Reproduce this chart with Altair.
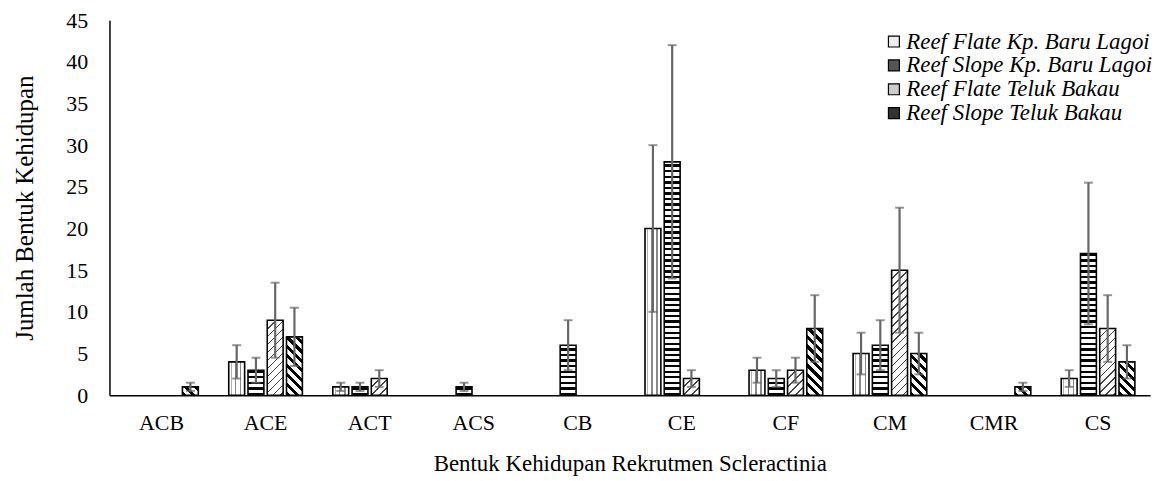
import math
import altair as alt
import pandas as pd

# ---------------- data ----------------
categories = ["ACB", "ACE", "ACT", "ACS", "CB", "CE", "CF", "CM", "CMR", "CS"]
series = [
    "Reef Flate Kp. Baru Lagoi",
    "Reef Slope Kp. Baru Lagoi",
    "Reef Flate Teluk Bakau",
    "Reef Slope Teluk Bakau",
]
rf_kbl = [0, 4, 1, 0, 0, 20, 3, 5, 0, 2]
rf_kbl_err = [0, 2, 0.5, 0, 0, 10, 1.5, 2.5, 0, 1]
rs_kbl = [0, 3, 1, 1, 6, 28, 2, 6, 0, 17]
rs_kbl_err = [0, 1.5, 0.5, 0.5, 3, 14, 1, 3, 0, 8.5]
rf_tb = [0, 9, 2, 0, 0, 2, 3, 15, 0, 8]
rf_tb_err = [0, 4.5, 1, 0, 0, 1, 1.5, 7.5, 0, 4]
rs_tb = [1, 7, 0, 0, 0, 0, 8, 5, 1, 4]
rs_tb_err = [0.5, 3.5, 0, 0, 0, 0, 4, 2.5, 0.5, 2]
y_ticks = [0, 5, 10, 15, 20, 25, 30, 35, 40, 45]

values = [rf_kbl, rs_kbl, rf_tb, rs_tb]
errors = [rf_kbl_err, rs_kbl_err, rf_tb_err, rs_tb_err]

rows = []
for s, vals, errs in zip(series, values, errors):
    for c, v, e in zip(categories, vals, errs):
        rows.append({"cat": c, "series": s, "value": v, "lo": v - e, "hi": v + e})
df = pd.DataFrame(rows)
df_nz = df[df["value"] > 0].reset_index(drop=True)

# ---------------- layout ----------------
PLOT_W, PLOT_H = 1046, 377
Y_MAX = 45
X_PAD_IN, X_PAD_OUT = 0.26, 0.13
O_PAD_IN, O_PAD_OUT = 0.175, 0.0875
FONT = "Liberation Serif"

step_x = PLOT_W / (len(categories) - X_PAD_IN + 2 * X_PAD_OUT)
band_x = step_x * (1 - X_PAD_IN)
step_o = band_x / (len(series) - O_PAD_IN + 2 * O_PAD_OUT)
BAR_W = step_o * (1 - O_PAD_IN)
PX_PER_UNIT = PLOT_H / Y_MAX


def periodic_stops(n, frac, dark, light="white"):
    stops = []
    k = 0
    while k / n < 1:
        a = k / n
        b = min((k + frac) / n, 1.0)
        e = min((k + 1) / n, 1.0)
        stops += [(a, dark), (b, dark), (b, light), (e, light)]
        k += 1
    return [{"offset": round(o, 5), "color": col} for o, col in stops]


def grad_down(w, h, period, frac, color):  # "\" stripes
    c = (w + h) / (w * w + h * h)
    n = (w + h) / period
    return {"gradient": "linear", "x1": 0, "y1": 1, "x2": c * w, "y2": 1 - c * h,
            "stops": periodic_stops(n, frac, color)}


def grad_up(w, h, period, frac, color):  # "/" stripes
    c = (w + h) / (w * w + h * h)
    n = (w + h) / period
    return {"gradient": "linear", "x1": 0, "y1": 0, "x2": c * w, "y2": c * h,
            "stops": periodic_stops(n, frac, color)}


def grad_horiz(w, h, period, frac, color):
    n = max(h / period, 1)
    return {"gradient": "linear", "x1": 0, "y1": 1, "x2": 0, "y2": 0,
            "stops": periodic_stops(n, frac, color)}


def grad_vlines(w, h):
    spec = [(0.0, "white"), (0.14, "white"), (0.14, "#b0b0b0"), (0.2, "#b0b0b0"), (0.2, "white"),
            (0.4, "white"), (0.4, "#8a8a8a"), (0.48, "#8a8a8a"), (0.48, "white"),
            (0.72, "white"), (0.72, "#8a8a8a"), (0.8, "#8a8a8a"), (0.8, "white"), (1.0, "white")]
    return {"gradient": "linear", "x1": 0, "y1": 0, "x2": 1, "y2": 0,
            "stops": [{"offset": o, "color": c} for o, c in spec]}


def pattern_for(series_idx, value):
    h = value * PX_PER_UNIT
    w = BAR_W
    if series_idx == 0:
        return grad_vlines(w, h)
    if series_idx == 1:
        return grad_horiz(w, h, 5.6, 0.42, "black")
    if series_idx == 2:
        return grad_up(w, h, 8.0, 0.2, "#444444")
    return grad_down(w, h, 9.5, 0.45, "black")


x_scale = alt.Scale(domain=categories, paddingInner=X_PAD_IN, paddingOuter=X_PAD_OUT)
xo_scale = alt.Scale(domain=series, paddingInner=O_PAD_IN, paddingOuter=O_PAD_OUT)
y_scale = alt.Scale(domain=[0, Y_MAX], nice=False)

x_enc = alt.X("cat:N", scale=x_scale,
              axis=alt.Axis(title="Bentuk Kehidupan Rekrutmen Scleractinia", labelAngle=0,
                            ticks=False, labelPadding=17, titlePadding=20,
                            titleFontSize=23, domainColor="black", domainWidth=1.5))
xo_enc = alt.XOffset("series:N", scale=xo_scale)
y_axis = alt.Axis(title="Jumlah Bentuk Kehidupan", values=y_ticks, grid=False, ticks=False,
                  labelPadding=22, titlePadding=28, titleFontSize=25,
                  domainColor="black", domainWidth=1.5)

layers = []

# legend carrier (zero-height bars, invisible)
legend_df = pd.DataFrame({"cat": categories[0], "series": series, "value": 0})
legend_layer = alt.Chart(legend_df).mark_bar(strokeWidth=0).encode(
    x=x_enc,
    xOffset=xo_enc,
    y=alt.Y("value:Q", scale=y_scale, axis=y_axis),
    fill=alt.Fill("series:N", scale=alt.Scale(domain=series,
                                              range=["#eeeeee", "#555555", "#cccccc", "#333333"]),
                  legend=alt.Legend(title=None, orient="none", legendX=777, legendY=10,
                                    symbolType="square", symbolSize=121,
                                    symbolStrokeColor="black", symbolStrokeWidth=1.2,
                                    labelFont=FONT, labelFontSize=23, labelFontStyle="italic",
                                    labelColor="black", labelOffset=1, rowPadding=-2,
                                    labelLimit=400)),
)
layers.append(legend_layer)

for _, r in df_nz.iterrows():
    si = series.index(r["series"])
    one = pd.DataFrame([r.to_dict()])
    layers.append(
        alt.Chart(one).mark_bar(fill=pattern_for(si, r["value"]), stroke="black",
                                strokeWidth=1.6).encode(
            x=alt.X("cat:N", scale=x_scale),
            xOffset=alt.XOffset("series:N", scale=xo_scale),
            y=alt.Y("value:Q", scale=y_scale),
        )
    )

err_base = alt.Chart(df_nz).encode(
    x=alt.X("cat:N", scale=x_scale),
    xOffset=alt.XOffset("series:N", scale=xo_scale),
)
ERR_COLOR = "#666666"
err_rule = err_base.mark_rule(color=ERR_COLOR, strokeWidth=2.2).encode(
    y=alt.Y("lo:Q", scale=y_scale), y2="hi:Q")
cap_hi = err_base.mark_tick(color=ERR_COLOR, thickness=2, size=9).encode(
    y=alt.Y("hi:Q", scale=y_scale))
cap_lo = err_base.mark_tick(color=ERR_COLOR, thickness=2, size=9).encode(
    y=alt.Y("lo:Q", scale=y_scale))
layers += [err_rule, cap_hi, cap_lo]

chart = alt.layer(*layers).properties(
    width=PLOT_W, height=PLOT_H,
    autosize=alt.AutoSizeParams(type="none"),
    padding={"left": 102, "top": 11, "right": 16, "bottom": 82},
).configure_view(stroke=None).configure_axis(
    labelFont=FONT, titleFont=FONT, labelFontSize=22, titleFontSize=23,
    labelColor="black", titleColor="black", titleFontWeight="normal",
).configure_legend(padding=0, labelFont=FONT, labelFontStyle="italic")

chart.save("out.html", embed_options={"renderer": "svg", "actions": False})
